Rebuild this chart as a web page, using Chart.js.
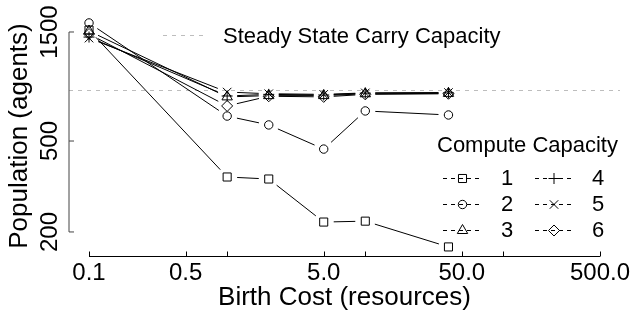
<!DOCTYPE html>
<html>
<head>
<meta charset="utf-8">
<script src="https://cdn.jsdelivr.net/npm/chart.js@4.4.0/dist/chart.umd.min.js"></script>
<style>
  html, body { margin: 0; padding: 0; background: #fff; }
  #wrap { width: 634px; height: 314px; }
</style>
</head>
<body>
<div id="wrap"><canvas id="chart"></canvas></div>
<script>
// Birth cost (x) values and population per compute capacity
const birthCost = [0.1, 1, 2, 5, 10, 40];
const capacityNames = ['1', '2', '3', '4', '5', '6'];
const popCap1 = [1530, 348, 341, 221, 223, 172];
const popCap2 = [1643, 643, 588, 461, 677, 650];
const popCap3 = [1515, 780, 790, 790, 805, 808];
const popCap4 = [1425, 787, 800, 795, 810, 812];
const popCap5 = [1410, 819, 805, 800, 812, 815];
const popCap6 = [1470, 712, 785, 780, 800, 805];
const seriesValues = [popCap1, popCap2, popCap3, popCap4, popCap5, popCap6];
const steadyState = 835;

// Axis ticks
const xTicks = [0.1, 0.5, 1, 5, 10, 50, 100, 500];
const xTickLabels = ['0.1', '0.5', '', '5.0', '', '50.0', '', '500.0'];
const yTicks = [200, 500, 1500];
const yTickLabels = ['200', '500', '1500'];

const markers = [
    { style: 'rect', r: 5.7 },
    { style: 'circle', r: 4.2 },
    { style: 'triangle', r: 6 },
    { style: 'cross', r: 5.5 },
    { style: 'crossRot', r: 6 },
    { style: 'rectRot', r: 5.5 }
];

const FONT = '"Liberation Sans", Arial, sans-serif';
const GAP = 10;

const datasets = seriesValues.map((vals, i) => ({
    label: capacityNames[i],
    data: vals.map((v, k) => ({ x: birthCost[k], y: v })),
    showLine: false,
    pointStyle: markers[i].style,
    pointRadius: markers[i].r,
    pointBorderWidth: 1,
    pointBorderColor: '#000',
    pointBackgroundColor: 'rgba(0,0,0,0)'
}));

function drawMarker(ctx, m, x, y) {
    ctx.save();
    ctx.strokeStyle = '#000';
    ctx.fillStyle = 'rgba(0,0,0,0)';
    ctx.lineWidth = 1;
    Chart.helpers.drawPoint(ctx, { pointStyle: m.style, radius: m.r, borderWidth: 1, rotation: 0 }, x, y);
    ctx.restore();
}

const rPlot = {
    id: 'rPlot',
    beforeDatasetsDraw(chart) {
        const ctx = chart.ctx;
        const area = chart.chartArea;
        const ys = Math.round(chart.scales.y.getPixelForValue(steadyState)) + 0.5;

        // steady state carry capacity line
        ctx.save();
        ctx.strokeStyle = '#bdbdbd';
        ctx.lineWidth = 1;
        ctx.setLineDash([4, 5]);
        ctx.beginPath();
        ctx.moveTo(area.left, ys);
        ctx.lineTo(area.right, ys);
        ctx.stroke();
        ctx.restore();

        // lines with gaps around points (type = "b")
        chart.data.datasets.forEach((ds, i) => {
            const pts = chart.getDatasetMeta(i).data;
            ctx.save();
            ctx.strokeStyle = '#000';
            ctx.lineWidth = 1;
            for (let k = 1; k < pts.length; k++) {
                const a = pts[k - 1], b = pts[k];
                const dx = b.x - a.x, dy = b.y - a.y;
                const len = Math.hypot(dx, dy);
                if (len <= 2 * GAP) continue;
                const ux = dx / len, uy = dy / len;
                ctx.beginPath();
                ctx.moveTo(a.x + ux * GAP, a.y + uy * GAP);
                ctx.lineTo(b.x - ux * GAP, b.y - uy * GAP);
                ctx.stroke();
            }
            ctx.restore();
        });
    },
    afterDraw(chart) {
        const ctx = chart.ctx;
        const xs = chart.scales.x, ys = chart.scales.y;
        const area = chart.chartArea;
        ctx.save();
        ctx.fillStyle = '#000';

        // x axis
        const xAxisY = 256.5;
        const x0 = xs.getPixelForValue(xTicks[0]);
        const x1 = xs.getPixelForValue(xTicks[xTicks.length - 1]);
        ctx.strokeStyle = '#000';
        ctx.lineWidth = 1;
        ctx.beginPath();
        ctx.moveTo(x0, xAxisY);
        ctx.lineTo(x1, xAxisY);
        xTicks.forEach(t => {
            const px = Math.round(xs.getPixelForValue(t)) + 0.5;
            ctx.moveTo(px, xAxisY);
            ctx.lineTo(px, xAxisY - 5);
        });
        ctx.stroke();
        ctx.font = '24px ' + FONT;
        ctx.textAlign = 'center';
        ctx.textBaseline = 'alphabetic';
        xTicks.forEach((t, i) => {
            if (xTickLabels[i]) ctx.fillText(xTickLabels[i], xs.getPixelForValue(t), 280);
        });

        // y axis
        const yAxisX = area.left;
        const y0 = ys.getPixelForValue(yTicks[0]);
        const y1 = ys.getPixelForValue(yTicks[yTicks.length - 1]);
        ctx.strokeStyle = '#444';
        ctx.beginPath();
        ctx.moveTo(yAxisX, y0);
        ctx.lineTo(yAxisX, y1);
        yTicks.forEach(t => {
            const py = ys.getPixelForValue(t);
            ctx.moveTo(yAxisX, py);
            ctx.lineTo(yAxisX + 5, py);
        });
        ctx.stroke();
        yTicks.forEach((t, i) => {
            ctx.save();
            ctx.translate(57, ys.getPixelForValue(t));
            ctx.rotate(-Math.PI / 2);
            ctx.textAlign = 'center';
            ctx.fillText(yTickLabels[i], 0, 0);
            ctx.restore();
        });

        // axis titles
        ctx.font = '26px ' + FONT;
        ctx.textAlign = 'center';
        ctx.fillText('Birth Cost (resources)', (area.left + area.right) / 2, 305);
        ctx.save();
        ctx.translate(27, (area.top + area.bottom) / 2);
        ctx.rotate(-Math.PI / 2);
        ctx.fillText('Population (agents)', 0, 0);
        ctx.restore();

        // top legend
        ctx.save();
        ctx.strokeStyle = '#bdbdbd';
        ctx.setLineDash([4, 5]);
        ctx.beginPath();
        ctx.moveTo(163, 35.5);
        ctx.lineTo(203, 35.5);
        ctx.stroke();
        ctx.restore();
        ctx.font = '22px ' + FONT;
        ctx.textAlign = 'left';
        ctx.fillText('Steady State Carry Capacity', 223, 43);

        // compute capacity legend
        ctx.fillText('Compute Capacity', 437, 152);
        const colLine = [[443, 482], [535, 573]];
        const colText = [501, 592];
        const rowY = [178, 204, 230];
        markers.forEach((m, i) => {
            const col = Math.floor(i / 3), row = i % 3;
            const y = rowY[row] + 0.5;
            ctx.save();
            ctx.strokeStyle = '#000';
            ctx.setLineDash([4, 4]);
            ctx.beginPath();
            ctx.moveTo(colLine[col][0], y);
            ctx.lineTo(colLine[col][1], y);
            ctx.stroke();
            ctx.restore();
            drawMarker(ctx, m, (colLine[col][0] + colLine[col][1]) / 2, y);
            ctx.fillText(capacityNames[i], colText[col], rowY[row] + 7);
        });
        ctx.restore();
    }
};

new Chart(document.getElementById('chart'), {
    type: 'scatter',
    data: { datasets },
    options: {
        responsive: true,
        maintainAspectRatio: false,
        animation: false,
        layout: { padding: { left: 69, right: 14, top: 15, bottom: 57 } },
        scales: {
            x: { type: 'logarithmic', display: false, min: 0.07163, max: 698 },
            y: { type: 'logarithmic', display: false, min: 155.4, max: 1780 }
        },
        plugins: {
            legend: { display: false },
            tooltip: { enabled: false }
        }
    },
    plugins: [rPlot]
});
</script>
</body>
</html>
